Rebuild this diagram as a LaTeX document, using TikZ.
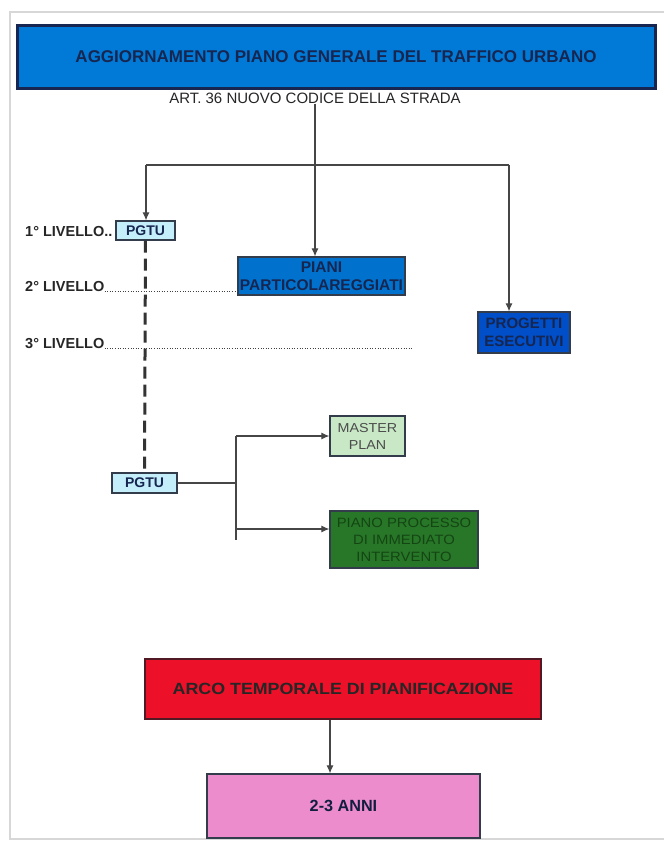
\documentclass[tikz,border=0pt]{standalone}
\usepackage{fontspec}
\setmainfont{Liberation Sans}
\newfontfamily\narrowf{Liberation Sans}
\newfontfamily\widef[FakeStretch=1.1]{Liberation Sans}
\usetikzlibrary{arrows.meta}
\definecolor{titlefill}{RGB}{0,122,214}
\definecolor{navy}{RGB}{22,38,80}
\definecolor{boxline}{RGB}{50,60,75}
\definecolor{pgtufill}{RGB}{196,238,250}
\definecolor{pianifill}{RGB}{0,114,206}
\definecolor{progfill}{RGB}{0,78,200}
\definecolor{masterfill}{RGB}{200,232,198}
\definecolor{pianofill}{RGB}{40,118,40}
\definecolor{pianotext}{RGB}{20,70,20}
\definecolor{arcofill}{RGB}{236,16,40}
\definecolor{arcoline}{RGB}{80,25,35}
\definecolor{annifill}{RGB}{236,140,204}
\definecolor{conn}{RGB}{70,70,70}
\definecolor{framegrey}{RGB}{215,215,215}
\tikzset{
  base/.style={draw=boxline, line width=1.2pt, inner sep=0pt, align=center, font=\narrowf\bfseries\fontsize{15.5}{17}\selectfont},
  bx/.style args={#1x#2}{base, minimum width=#1pt, minimum height=#2pt},
  arr/.style={draw=conn, line width=1.1pt, -{Latex[length=8pt,width=7pt]}},
  ln/.style={draw=conn, line width=1.1pt},
  lvl/.style={anchor=base west, inner sep=0pt, font=\narrowf\bfseries\fontsize{14.5}{16}\selectfont, text=black!85},
  dots/.style={draw=black!75, line width=1pt, dash pattern=on 1pt off 1.6pt},
}
\begin{document}
\begin{tikzpicture}[x=1pt,y=-1pt]
\useasboundingbox (0,0) rectangle (664,841);
\fill[white] (0,0) rectangle (664,841);
\draw[framegrey, line width=2pt] (664,12) -- (10,12) -- (10,839) -- (664,839);

\node[bx=638x63, fill=titlefill, draw=navy, line width=3pt, text=navy, font=\narrowf\bfseries\fontsize{17}{18}\selectfont] (title) at (336,56.5) {AGGIORNAMENTO PIANO GENERALE DEL TRAFFICO URBANO};
\node[inner sep=0pt, font=\narrowf\fontsize{15}{17}\selectfont, text=black!85] (art) at (315,98) {ART. 36 NUOVO CODICE DELLA STRADA};
\coordinate (split) at (315,165);
\coordinate (lft) at (146,165);
\coordinate (rgt) at (509,165);

\node[bx=59x19, fill=pgtufill, text=navy, font=\narrowf\bfseries\fontsize{14}{16}\selectfont] (pgtu1) at (145.5,230.5) {PGTU};
\node[bx=167x38, fill=pianifill, text=navy, font=\narrowf\bfseries\fontsize{15.5}{18}\selectfont] (piani) at (321.5,276) {PIANI\\PARTICOLAREGGIATI};
\node[bx=92x41, fill=progfill, text=navy, font=\narrowf\bfseries\fontsize{15}{18}\selectfont] (prog) at (524,332.5) {PROGETTI\\ESECUTIVI};

\draw[ln] (art.south -| split) -- (split);
\draw[ln] (lft) -- (rgt);
\draw[arr] (lft) -- (lft |- pgtu1.north);
\draw[arr] (split) -- (split |- piani.north);
\draw[arr] (rgt) -- (rgt |- prog.north);

\node[lvl] (l1) at (25,236) {1° LIVELLO..};
\node[lvl] (l2) at (25,291) {2° LIVELLO};
\node[lvl] (l3) at (25,348) {3° LIVELLO};
\coordinate (l3end) at (412,348);
\draw[dots] (l2.base east) -- (l2.base east -| piani.west);
\draw[dots] (l3.base east) -- (l3end);

\node[bx=65x20, fill=pgtufill, text=navy, font=\narrowf\bfseries\fontsize{14}{16}\selectfont] (pgtu2) at (144.5,483) {PGTU};
\draw[draw=black!80, line width=3pt, dash pattern=on 12pt off 6pt] (pgtu1.south) -- (pgtu2.north);

\node[bx=75x40, fill=masterfill, text=black!70, font=\widef\fontsize{13}{17}\selectfont] (master) at (367.5,436) {MASTER\\PLAN};
\node[bx=148x57, fill=pianofill, text=pianotext, font=\widef\fontsize{13.5}{17}\selectfont] (piano) at (404,539.5) {PIANO PROCESSO\\DI IMMEDIATO\\INTERVENTO};
\coordinate (trunk) at (236,483);
\draw[ln] (pgtu2.east) -- (trunk);
\draw[ln] (trunk |- master.west) -- (trunk |- piano.west);
\draw[arr] (trunk |- master.west) -- (master.west);
\draw[arr] (236,529) -- (piano.west |- 0,529);

\node[bx=396x60, fill=arcofill, draw=arcoline, text=black!85, font=\widef\bfseries\fontsize{16.2}{18}\selectfont] (arco) at (343,689) {ARCO TEMPORALE DI PIANIFICAZIONE};
\node[bx=273x64, fill=annifill, draw=boxline, text=navy!80!black, font=\narrowf\bfseries\fontsize{16.2}{18}\selectfont] (anni) at (343.5,806) {2-3 ANNI};
\draw[arr] (arco.south -| 330,0) -- (anni.north -| 330,0);
\end{tikzpicture}
\end{document}
